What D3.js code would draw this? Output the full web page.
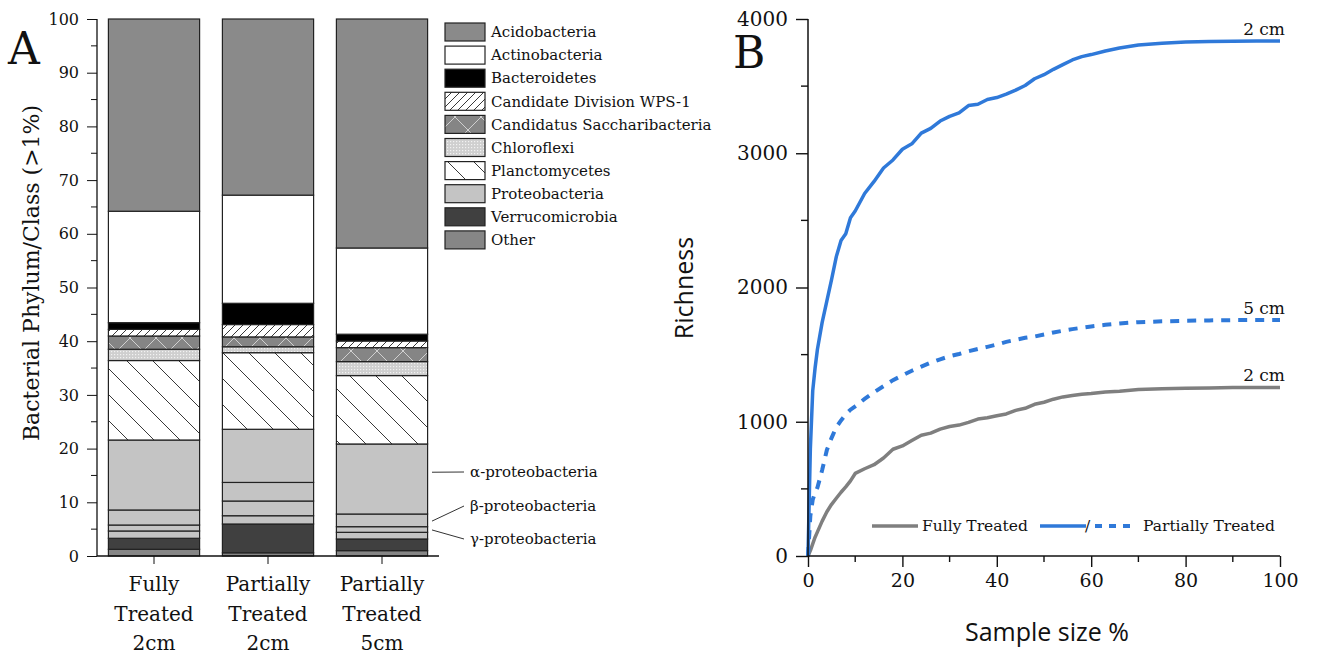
<!DOCTYPE html>
<html lang="en">
<head>
  <meta charset="UTF-8">
  <title>Bacterial composition and rarefaction</title>
  <style>
    body { margin: 0; background: #fff; }
    svg { display: block; }
    .serif { font-family: "DejaVu Serif", serif; fill: #111; }
    .sans { font-family: "Open Sans", sans-serif; fill: #111; }
  </style>
</head>
<body>
  <script src="https://d3js.org/d3.v7.min.js"></script>
  <script>
    // ---- panel A data (percent of reads, stacked bottom -> top) ----
    const samples = ["Fully Treated 2cm", "Partially Treated 2cm", "Partially Treated 5cm"];
    const sampleLines = [["Fully", "Treated", "2cm"], ["Partially", "Treated", "2cm"], ["Partially", "Treated", "5cm"]];
    const stackKeys = ["Other", "Verrucomicrobia", "Proteo-other", "gamma", "beta", "alpha",
      "Planctomycetes", "Chloroflexi", "Candidatus Saccharibacteria", "Candidate Division WPS-1",
      "Bacteroidetes", "Actinobacteria", "Acidobacteria"];
    const other = [1.25, 0.6, 1.0];
    const verrucomicrobia = [2.05, 5.36, 2.17];
    const proteoOther = [1.36, 1.54, 1.24];
    const gammaProteo = [1.11, 2.74, 1.05];
    const betaProteo = [2.8, 3.46, 2.36];
    const alphaProteo = [13.03, 9.9, 13.04];
    const planctomycetes = [14.8, 14.26, 12.74];
    const chloroflexi = [2.1, 1.11, 2.6];
    const saccharibacteria = [2.47, 1.83, 2.6];
    const wps1 = [1.23, 2.3, 1.24];
    const bacteroidetes = [1.25, 3.96, 1.26];
    const actinobacteria = [20.75, 20.14, 16.06];
    const acidobacteria = [35.8, 32.8, 42.64];
    const legendNames = ["Acidobacteria", "Actinobacteria", "Bacteroidetes", "Candidate Division WPS-1",
      "Candidatus Saccharibacteria", "Chloroflexi", "Planctomycetes", "Proteobacteria", "Verrucomicrobia", "Other"];
    const yTicksA = d3.range(0, 101, 10);

    // ---- panel B data (rarefaction: sample size % vs richness) ----
    const samplePct = [0, 0.5, 1, 1.5, 2, 3, 4, 5, 6, 7, 8, 9, 10, 12, 14, 16, 18, 20, 22, 24, 26, 28, 30,
      32, 34, 36, 38, 40, 42, 44, 46, 48, 50, 52, 54, 56, 58, 60, 63, 66, 70, 75, 80, 85, 90, 95, 100];
    const partial2cm = [0, 800, 1230, 1400, 1540, 1740, 1900, 2060, 2230, 2350, 2400, 2520, 2570, 2700, 2790,
      2890, 2950, 3030, 3070, 3150, 3185, 3240, 3275, 3300, 3355, 3365, 3400, 3415, 3440, 3470, 3505, 3555,
      3585, 3625, 3660, 3695, 3720, 3735, 3762, 3784, 3806, 3820, 3828, 3832, 3835, 3836, 3836];
    const partial5cm = [0, 300, 420, 470, 510, 640, 790, 880, 960, 1010, 1055, 1090, 1115, 1170, 1220, 1265,
      1310, 1345, 1380, 1410, 1440, 1465, 1488, 1505, 1525, 1542, 1558, 1575, 1595, 1610, 1625, 1635, 1650,
      1665, 1678, 1690, 1700, 1710, 1722, 1732, 1742, 1748, 1752, 1755, 1757, 1758, 1758];
    const fully2cm = [0, 40, 90, 140, 180, 260, 330, 385, 430, 475, 515, 560, 615, 650, 680, 730, 795, 820,
      860, 900, 915, 945, 965, 975, 995, 1020, 1030, 1045, 1058, 1085, 1100, 1130, 1145, 1168, 1185, 1195,
      1205, 1210, 1222, 1228, 1240, 1245, 1249, 1252, 1255, 1256, 1256];
    const yTicksB = [0, 1000, 2000, 3000, 4000];
    const xTicksB = [0, 20, 40, 60, 80, 100];

    const W = 1318, H = 658;
    const svg = d3.select("body").append("svg").attr("width", W).attr("height", H);
    svg.append("rect").attr("width", W).attr("height", H).attr("fill", "#fff");
    const defs = svg.append("defs");

    // fill patterns
    const pWps = defs.append("pattern").attr("id", "p-wps").attr("patternUnits", "userSpaceOnUse")
      .attr("width", 8).attr("height", 8);
    pWps.append("rect").attr("width", 8).attr("height", 8).attr("fill", "#fff");
    pWps.append("path").attr("d", "M0,8L8,0M-2,2L2,-2M6,10L10,6").attr("stroke", "#222").attr("stroke-width", 0.9);

    const pPlan = defs.append("pattern").attr("id", "p-plan").attr("patternUnits", "userSpaceOnUse")
      .attr("width", 26).attr("height", 26);
    pPlan.append("rect").attr("width", 26).attr("height", 26).attr("fill", "#fff");
    pPlan.append("path").attr("d", "M0,0L26,26M-3,23L3,29M23,-3L29,3").attr("stroke", "#222").attr("stroke-width", 0.9);

    const pChl = defs.append("pattern").attr("id", "p-chl").attr("patternUnits", "userSpaceOnUse")
      .attr("width", 3).attr("height", 3);
    pChl.append("rect").attr("width", 3).attr("height", 3).attr("fill", "#cfcfcf");
    pChl.append("rect").attr("width", 1.2).attr("height", 1.2).attr("fill", "#f2f2f2");

    const pSac = defs.append("pattern").attr("id", "p-sac").attr("patternUnits", "userSpaceOnUse")
      .attr("width", 26).attr("height", 26);
    pSac.append("rect").attr("width", 26).attr("height", 26).attr("fill", "#858585");
    pSac.append("path").attr("d", "M0,0L26,26M26,0L0,26").attr("stroke", "#d0d0d0").attr("stroke-width", 1);

    const fills = {
      "Acidobacteria": "#8a8a8a", "Actinobacteria": "#fff", "Bacteroidetes": "#000",
      "Candidate Division WPS-1": "url(#p-wps)", "Candidatus Saccharibacteria": "url(#p-sac)",
      "Chloroflexi": "url(#p-chl)", "Planctomycetes": "url(#p-plan)", "Proteobacteria": "#c4c4c4",
      "Verrucomicrobia": "#404040", "Other": "#868686",
      "Proteo-other": "#c4c4c4", "gamma": "#c4c4c4", "beta": "#c4c4c4", "alpha": "#c4c4c4"
    };

    // ================= Panel A =================
    const seriesVals = [other, verrucomicrobia, proteoOther, gammaProteo, betaProteo, alphaProteo,
      planctomycetes, chloroflexi, saccharibacteria, wps1, bacteroidetes, actinobacteria, acidobacteria];
    const rows = samples.map((s, i) => {
      const r = { sample: s };
      stackKeys.forEach((k, j) => { r[k] = seriesVals[j][i]; });
      return r;
    });
    const stacked = d3.stack().keys(stackKeys)(rows);

    const xA = d3.scaleBand().domain(samples).range([97, 439]).paddingInner(0.2).paddingOuter(0.1);
    const yA = d3.scaleLinear().domain([0, 100]).range([556, 19]);

    const gA = svg.append("g");
    gA.selectAll("g.layer").data(stacked).join("g").attr("class", "layer")
      .attr("fill", d => fills[d.key])
      .selectAll("rect").data(d => d).join("rect")
      .attr("x", d => xA(d.data.sample))
      .attr("width", xA.bandwidth())
      .attr("y", d => yA(d[1]))
      .attr("height", d => yA(d[0]) - yA(d[1]))
      .attr("stroke", "#222").attr("stroke-width", 1.2);

    // y axis A
    const axA = gA.append("g").attr("transform", "translate(97,0)")
      .call(d3.axisLeft(yA).tickValues(yTicksA).tickSize(10).tickPadding(8));
    axA.selectAll("text").attr("class", "serif").style("font-size", "16px").attr("fill", "#111");
    axA.selectAll("line").attr("stroke", "#111");
    axA.select(".domain").attr("stroke", "#111").attr("stroke-width", 1.3).attr("d", "M0,556V19");
    axA.append("g").selectAll("line").data(d3.range(5, 100, 10)).join("line")
      .attr("x1", 0).attr("x2", -6).attr("y1", d => yA(d)).attr("y2", d => yA(d)).attr("stroke", "#111");

    // x axis A
    const axAx = gA.append("g").attr("transform", "translate(0,556)")
      .call(d3.axisBottom(xA).tickSize(8).tickFormat(""));
    axAx.select(".domain").attr("stroke", "#111").attr("stroke-width", 1.3).attr("d", "M97,0H439");
    axAx.selectAll("line").attr("stroke", "#111");
    samples.forEach((s, i) => {
      const t = gA.append("text").attr("class", "serif").attr("text-anchor", "middle")
        .style("font-size", "20px");
      sampleLines[i].forEach((ln, j) => {
        t.append("tspan").attr("x", xA(s) + xA.bandwidth() / 2).attr("y", 591 + j * 29.5).text(ln);
      });
    });

    gA.append("text").attr("class", "serif").style("font-size", "22px").attr("text-anchor", "middle")
      .attr("transform", "translate(39,273) rotate(-90)").text("Bacterial Phylum/Class (>1%)");
    gA.append("text").attr("class", "serif").style("font-size", "44px").attr("x", 8).attr("y", 64).text("A");

    // legend A
    const legA = gA.append("g");
    legendNames.forEach((n, i) => {
      const cy = 32 + i * 23.1;
      legA.append("rect").attr("x", 445).attr("y", cy - 9).attr("width", 40).attr("height", 18)
        .attr("fill", fills[n]).attr("stroke", "#222").attr("stroke-width", 1.2);
      legA.append("text").attr("class", "serif").style("font-size", "15px")
        .attr("x", 491).attr("y", cy).attr("dy", "0.35em").text(n);
    });

    // proteobacteria class annotations
    const ann = [
      { label: "\u03b1-proteobacteria", y0: 15.6, ty: 472 },
      { label: "\u03b2-proteobacteria", y0: 6.5, ty: 506 },
      { label: "\u03b3-proteobacteria", y0: 4.85, ty: 539 }
    ];
    ann.forEach(a => {
      gA.append("line").attr("x1", 432).attr("y1", yA(a.y0)).attr("x2", 464).attr("y2", a.ty)
        .attr("stroke", "#333").attr("stroke-width", 1);
      gA.append("text").attr("class", "serif").style("font-size", "15px")
        .attr("x", 470).attr("y", a.ty).attr("dy", "0.35em").text(a.label);
    });

    // ================= Panel B =================
    const xB = d3.scaleLinear().domain([0, 100]).range([808, 1280]);
    const yB = d3.scaleLinear().domain([0, 4000]).range([556, 19]);
    const gB = svg.append("g");

    const line = vals => d3.line().x((d, i) => xB(samplePct[i])).y(d => yB(d))(vals);
    gB.append("path").attr("d", line(fully2cm)).attr("fill", "none")
      .attr("stroke", "#7f7f7f").attr("stroke-width", 3.5).attr("stroke-linejoin", "round");
    gB.append("path").attr("d", line(partial5cm)).attr("fill", "none")
      .attr("stroke", "#2f79d9").attr("stroke-width", 4).attr("stroke-dasharray", "9,8");
    gB.append("path").attr("d", line(partial2cm)).attr("fill", "none")
      .attr("stroke", "#2f79d9").attr("stroke-width", 3.5).attr("stroke-linejoin", "round");

    const axBy = gB.append("g").attr("transform", "translate(808,0)")
      .call(d3.axisLeft(yB).tickValues(yTicksB).tickFormat(d3.format("d")).tickSize(12).tickPadding(8));
    axBy.selectAll("text").attr("class", "serif").style("font-size", "20px").attr("fill", "#111");
    axBy.selectAll("line").attr("stroke", "#111").attr("stroke-width", 1.4);
    axBy.select(".domain").attr("stroke", "#111").attr("stroke-width", 1.5).attr("d", "M0,556V19");
    axBy.append("g").selectAll("line").data([500, 1500, 2500, 3500]).join("line")
      .attr("x1", 0).attr("x2", -7).attr("y1", d => yB(d)).attr("y2", d => yB(d))
      .attr("stroke", "#111").attr("stroke-width", 1.4);

    const axBx = gB.append("g").attr("transform", "translate(0,556)")
      .call(d3.axisBottom(xB).tickValues(xTicksB).tickSize(11).tickPadding(7));
    axBx.selectAll("text").attr("class", "serif").style("font-size", "19px").attr("fill", "#111");
    axBx.selectAll("line").attr("stroke", "#111").attr("stroke-width", 1.4);
    axBx.select(".domain").attr("stroke", "#111").attr("stroke-width", 1.5).attr("d", "M808,0H1280");
    axBx.append("g").selectAll("line").data([10, 30, 50, 70, 90]).join("line")
      .attr("x1", d => xB(d)).attr("x2", d => xB(d)).attr("y1", 0).attr("y2", 6)
      .attr("stroke", "#111").attr("stroke-width", 1.4);

    gB.append("text").attr("class", "sans").style("font-size", "25px").attr("text-anchor", "middle")
      .attr("transform", "translate(693,288) rotate(-90)").text("Richness");
    gB.append("text").attr("class", "sans").style("font-size", "25px").attr("text-anchor", "middle")
      .attr("x", 1047).attr("y", 641).text("Sample size %");
    gB.append("text").attr("class", "serif").style("font-size", "44px").attr("x", 733).attr("y", 68).text("B");

    // curve end labels
    [[partial2cm, "2 cm"], [partial5cm, "5 cm"], [fully2cm, "2 cm"]].forEach(([v, t]) => {
      gB.append("text").attr("class", "serif").style("font-size", "17px").attr("text-anchor", "end")
        .attr("x", xB(100) + 5).attr("y", yB(v[v.length - 1]) - 6).text(t);
    });

    // legend B
    const lg = gB.append("g");
    lg.append("line").attr("x1", 872).attr("x2", 918).attr("y1", 526).attr("y2", 526)
      .attr("stroke", "#7f7f7f").attr("stroke-width", 3.5);
    lg.append("text").attr("class", "serif").style("font-size", "15.5px").attr("x", 922).attr("y", 526)
      .attr("dy", "0.35em").text("Fully Treated");
    lg.append("line").attr("x1", 1040).attr("x2", 1086).attr("y1", 526).attr("y2", 526)
      .attr("stroke", "#2f79d9").attr("stroke-width", 3.5);
    lg.append("text").attr("class", "serif").style("font-size", "15.5px").attr("x", 1085).attr("y", 526)
      .attr("dy", "0.35em").text("/");
    lg.append("line").attr("x1", 1095).attr("x2", 1136).attr("y1", 526).attr("y2", 526)
      .attr("stroke", "#2f79d9").attr("stroke-width", 4).attr("stroke-dasharray", "7,7");
    lg.append("text").attr("class", "serif").style("font-size", "15.5px").attr("x", 1143).attr("y", 526)
      .attr("dy", "0.35em").text("Partially Treated");
  </script>
</body>
</html>
